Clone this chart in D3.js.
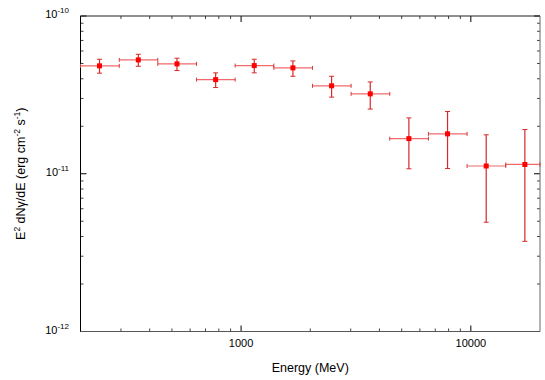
<!DOCTYPE html>
<html>
<head>
<meta charset="utf-8">
<script src="https://cdn.jsdelivr.net/npm/d3@7"></script>
<style>
  body { margin: 0; background: #fff; }
  text { font-family: "Liberation Sans", Arial, sans-serif; fill: #000; }
</style>
</head>
<body>
<script>
// dimensions
var width = 545;
var height = 380;

var margin = {
    top: 16,
    bottom: 48.5,
    left: 80.5,
    right: 5,
}

// bin centres and edges (MeV)
var energy = [242, 357, 526, 775, 1141, 1681, 2477, 3649, 5375, 7918, 11665, 17184];
var energyLo = [200, 295, 434, 640, 942, 1388, 2045, 3012, 4437, 6537, 9631, 14188];
var energyHi = [295, 434, 640, 942, 1388, 2045, 3012, 4437, 6537, 9631, 14188, 20000];

// E^2 dN/dE (erg cm^-2 s^-1) with lower / upper error bounds
var flux = [4.83e-11, 5.27e-11, 4.97e-11, 3.95e-11, 4.85e-11, 4.69e-11, 3.61e-11, 3.21e-11, 1.67e-11, 1.79e-11, 1.12e-11, 1.145e-11];
var fluxLo = [4.34e-11, 4.80e-11, 4.51e-11, 3.52e-11, 4.36e-11, 4.15e-11, 3.06e-11, 2.57e-11, 1.075e-11, 1.08e-11, 4.93e-12, 3.73e-12];
var fluxHi = [5.32e-11, 5.72e-11, 5.40e-11, 4.36e-11, 5.32e-11, 5.19e-11, 4.15e-11, 3.82e-11, 2.26e-11, 2.48e-11, 1.765e-11, 1.907e-11];

var xMajor = [1000, 10000];
var xMajorLabels = ["1000", "10000"];
var yMajor = [1e-12, 1e-11, 1e-10];
var yMajorExp = ["-12", "-11", "-10"];

var data = energy.map(function (e, i) {
    return { e: e, lo: energyLo[i], hi: energyHi[i], f: flux[i], fLo: fluxLo[i], fHi: fluxHi[i] };
});

var svg = d3.select("body")
    .append("svg")
    .attr("width", width)
    .attr("height", height);

var x0 = margin.left, x1 = width - margin.right;
var y0 = margin.top, y1 = height - margin.bottom;

var x = d3.scaleLog().domain([200, 20000]).range([x0, x1]);
var y = d3.scaleLog().domain([1e-12, 1e-10]).range([y1, y0]);

// minor tick positions
var xMinor = [];
[100, 1000, 10000].forEach(function (d) {
    for (var k = 2; k <= 9; k++) {
        var v = d * k;
        if (v > 200 && v < 20000 && xMajor.indexOf(v) < 0) xMinor.push(v);
    }
});
var yMinor = [];
[1e-12, 1e-11].forEach(function (d) {
    for (var k = 2; k <= 9; k++) yMinor.push(d * k);
});

var axes = svg.append("g").attr("stroke-width", 1);

// ticks (inward, on all four sides)
function vtick(v, len, color) {
    axes.append("line").attr("x1", x(v)).attr("x2", x(v)).attr("y1", y1).attr("y2", y1 - len).attr("stroke", color);
    axes.append("line").attr("x1", x(v)).attr("x2", x(v)).attr("y1", y0).attr("y2", y0 + len).attr("stroke", color);
}
function htick(v, len, color) {
    axes.append("line").attr("y1", y(v)).attr("y2", y(v)).attr("x1", x0).attr("x2", x0 + len).attr("stroke", color);
    axes.append("line").attr("y1", y(v)).attr("y2", y(v)).attr("x1", x1).attr("x2", x1 - len).attr("stroke", color);
}
xMinor.forEach(function (v) { vtick(v, 3, "#444"); });
xMajor.forEach(function (v) { vtick(v, 6, "#000"); });
yMinor.forEach(function (v) { htick(v, 3, "#444"); });
yMajor.forEach(function (v) { htick(v, 6, "#000"); });

// frame
axes.append("line").attr("x1", x0).attr("x2", x1).attr("y1", y0).attr("y2", y0).attr("stroke", "#222");
axes.append("line").attr("x1", x1).attr("x2", x1).attr("y1", y0).attr("y2", y1).attr("stroke", "#666");
axes.append("line").attr("x1", x0).attr("x2", x1).attr("y1", y1).attr("y2", y1).attr("stroke", "#555");
axes.append("line").attr("x1", x0).attr("x2", x0).attr("y1", y0).attr("y2", y1).attr("stroke", "#000");

// x tick labels
svg.selectAll(".xlab")
    .data(xMajor)
    .enter().append("text")
    .attr("x", function (d) { return x(d); })
    .attr("y", y1 + 15)
    .attr("text-anchor", "middle")
    .style("font-size", "11px")
    .text(function (d, i) { return xMajorLabels[i]; });

// y tick labels with superscripts
yMajor.forEach(function (v, i) {
    var t = svg.append("text")
        .attr("x", 69)
        .attr("y", y(v) + 2)
        .attr("text-anchor", "end")
        .style("font-size", "11px");
    t.append("tspan").text("10");
    t.append("tspan").attr("dy", -5).style("font-size", "8px").text(yMajorExp[i]);
});

// axis titles
svg.append("text")
    .attr("x", (x0 + x1) / 2)
    .attr("y", 372)
    .attr("text-anchor", "middle")
    .style("font-size", "12.5px")
    .text("Energy (MeV)");

var yt = svg.append("text")
    .attr("transform", "translate(24.5," + ((y0 + y1) / 2) + ") rotate(-90)")
    .attr("text-anchor", "middle")
    .style("font-size", "12.5px");
yt.append("tspan").text("E");
yt.append("tspan").attr("dy", -5).style("font-size", "8.5px").text("2");
yt.append("tspan").attr("dy", 5).text(" dN\u03b3/dE (erg cm");
yt.append("tspan").attr("dy", -5).style("font-size", "8.5px").text("-2");
yt.append("tspan").attr("dy", 5).text(" s");
yt.append("tspan").attr("dy", -5).style("font-size", "8.5px").text("-1");
yt.append("tspan").attr("dy", 5).text(")");

// error bars and points
var pts = svg.append("g").selectAll("g")
    .data(data)
    .enter().append("g");

var xbarColor = "#f06a6a";
var ybarColor = "#d42a2a";

pts.append("line")
    .attr("x1", function (d) { return x(d.lo); })
    .attr("x2", function (d) { return x(d.hi); })
    .attr("y1", function (d) { return y(d.f); })
    .attr("y2", function (d) { return y(d.f); })
    .attr("stroke", xbarColor).attr("stroke-width", 1.2);
pts.append("line")
    .attr("x1", function (d) { return x(d.lo); })
    .attr("x2", function (d) { return x(d.lo); })
    .attr("y1", function (d) { return y(d.f) - 2; })
    .attr("y2", function (d) { return y(d.f) + 2; })
    .attr("stroke", "#d43a3a");
pts.append("line")
    .attr("x1", function (d) { return x(d.hi); })
    .attr("x2", function (d) { return x(d.hi); })
    .attr("y1", function (d) { return y(d.f) - 2; })
    .attr("y2", function (d) { return y(d.f) + 2; })
    .attr("stroke", "#d43a3a");

pts.append("line")
    .attr("x1", function (d) { return x(d.e); })
    .attr("x2", function (d) { return x(d.e); })
    .attr("y1", function (d) { return y(d.fLo); })
    .attr("y2", function (d) { return y(d.fHi); })
    .attr("stroke", ybarColor).attr("stroke-width", 1.2);
["fLo", "fHi"].forEach(function (k) {
    pts.append("line")
        .attr("x1", function (d) { return x(d.e) - 2.5; })
        .attr("x2", function (d) { return x(d.e) + 2.5; })
        .attr("y1", function (d) { return y(d[k]); })
        .attr("y2", function (d) { return y(d[k]); })
        .attr("stroke", ybarColor);
});

pts.append("rect")
    .attr("x", function (d) { return x(d.e) - 2.5; })
    .attr("y", function (d) { return y(d.f) - 2.5; })
    .attr("width", 5)
    .attr("height", 5)
    .attr("fill", "#ff0000");
</script>
</body>
</html>
